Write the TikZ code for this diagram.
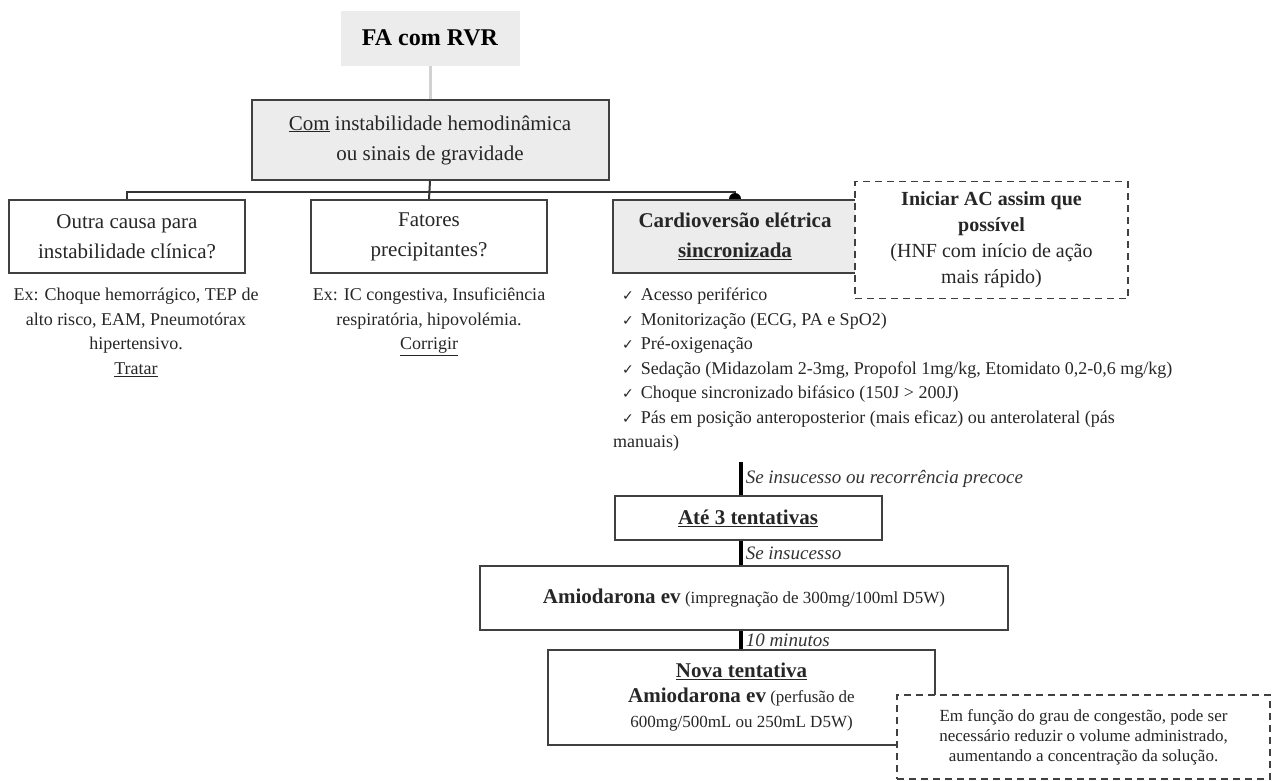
\documentclass[tikz,border=0pt]{standalone}
\usepackage{fontspec}
\setmainfont{Liberation Serif}
\newfontfamily\checkfont{DejaVu Sans}
\usetikzlibrary{arrows.meta,positioning,backgrounds}

\newcommand\boxfont{\fontsize{21}{30}\selectfont}
\newcommand\notefont{\fontsize{18}{24.5}\selectfont}
\newcommand\chk{\hspace*{9pt}{\checkfont\fontsize{14}{24.5}\selectfont ✓}\hspace{7pt}}

\tikzset{
  box/.style={draw=black!75, line width=2pt, align=flush center, inner sep=0pt, text=black!85},
  greybox/.style={box, fill=gray!15},
  dashbox/.style={draw=black!75, line width=1.8pt, dash pattern=on 7pt off 5pt,
    fill=white, align=flush center, inner sep=0pt, text=black!85},
  link/.style={draw=black!80, line width=2pt},
  thicklink/.style={draw=black, line width=3.5pt},
  steplabel/.style={font=\fontsize{19}{22}\selectfont\itshape, text=black!80,
    right, inner sep=3pt},
}

\begin{document}
\begin{tikzpicture}[x=1pt,y=-1pt]
  \useasboundingbox (0,0) rectangle (1283,780);

  % top of the tree
  \node[fill=gray!15, minimum width=179pt, minimum height=55pt,
        font=\fontsize{24}{28}\selectfont\bfseries] (fa) at (430,38) {FA com RVR};
  \node[greybox, minimum width=357pt, minimum height=80pt, font=\boxfont] (instab) at (430,140)
        {\underline{Com} instabilidade hemodinâmica\\ou sinais de gravidade};
  \coordinate (bar) at (430,192);

  % three branches
  \node[box, minimum width=236pt, minimum height=73pt, font=\boxfont] (outra) at (127,236.5)
        {Outra causa para\\instabilidade clínica?};
  \node[box, minimum width=236pt, minimum height=73pt, font=\boxfont] (fatores) at (429,236.5)
        {Fatores\\precipitantes?};
  \node[greybox, minimum width=244pt, minimum height=73pt, font=\boxfont\bfseries] (cardio) at (735,236.5)
        {Cardioversão elétrica\\\underline{sincronizada}};
  \node[dashbox, minimum width=273pt, minimum height=117pt, font=\fontsize{20}{26}\selectfont] (iniciar) at (991.5,240)
        {\textbf{Iniciar AC assim que}\\\textbf{possível}\\(HNF com início de ação\\mais rápido)};

  \node[below=14pt of outra.south, xshift=9pt, anchor=north, align=flush center, inner sep=0pt,
        font=\notefont, text=black!85] (ex1)
        {Ex: Choque hemorrágico, TEP de\\alto risco, EAM, Pneumotórax\\hipertensivo.\\\underline{Tratar}};
  \node[below=14pt of fatores.south, anchor=north, align=flush center, inner sep=0pt,
        font=\notefont, text=black!85] (ex2)
        {Ex: IC congestiva, Insuficiência\\respiratória, hipovolémia.\\\underline{Corrigir}};
  \node[anchor=north west, text width=580pt, align=flush left, inner sep=0pt,
        font=\notefont, text=black!85] (lista) at (613,288)
        {\chk Acesso periférico\\
         \chk Monitorização (ECG, PA e SpO2)\\
         \chk Pré-oxigenação\\
         \chk Sedação (Midazolam 2-3mg, Propofol 1mg/kg, Etomidato 0,2-0,6 mg/kg)\\
         \chk Choque sincronizado bifásico (150J > 200J)\\
         \chk Pás em posição anteroposterior (mais eficaz) ou anterolateral (pás\\
         manuais)};

  % lower chain
  \coordinate (s1) at (741,462);
  \node[box, minimum width=267pt, minimum height=44pt, font=\boxfont\bfseries] (ate) at (748,518)
        {\underline{Até 3 tentativas}};
  \node[box, minimum width=528pt, minimum height=64pt, font=\fontsize{17}{25}\selectfont] (amio) at (744,598)
        {{\fontsize{21}{25}\selectfont\bfseries Amiodarona ev} (impregnação de 300mg/100ml D5W)};
  \node[box, minimum width=387pt, minimum height=95pt, font=\fontsize{17}{25}\selectfont] (nova) at (741.5,697.5)
        {{\fontsize{21}{25}\selectfont\bfseries\underline{Nova tentativa}}\\
         {\fontsize{21}{25}\selectfont\bfseries Amiodarona ev} (perfusão de\\
         600mg/500mL ou 250mL D5W)};
  \node[dashbox, minimum width=373pt, minimum height=84pt, font=\fontsize{17}{20}\selectfont] (congest) at (1083.5,737)
        {Em função do grau de congestão, pode ser\\necessário reduzir o volume administrado,\\aumentando a concentração da solução.};

  \begin{scope}[on background layer]
    \draw[link, draw=gray!35, line width=3pt] (fa) -- (instab);
    \draw[link] (instab.south) -- (fatores.north);
    \draw[link] (outra.north) -- (outra.north |- bar) -- (cardio.north |- bar) -- (cardio.north);
    \fill (cardio.north) circle (6pt);
  \end{scope}

  \draw[thicklink] (s1) -- (s1 |- ate.north) node[steplabel, midway] {Se insucesso ou recorrência precoce};
  \draw[thicklink] (ate.south -| s1) -- (amio.north -| s1) node[steplabel, midway] {Se insucesso};
  \draw[thicklink] (amio.south -| s1) -- (nova.north -| s1) node[steplabel, midway] {10 minutos};
\end{tikzpicture}
\end{document}
